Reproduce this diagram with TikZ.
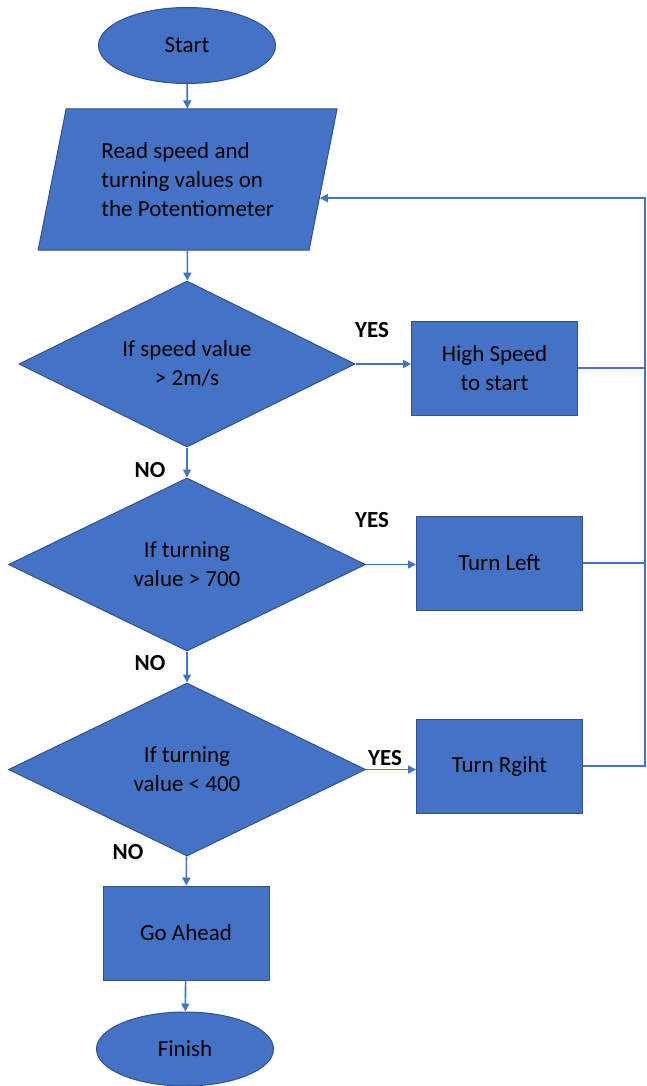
\documentclass[tikz,border=0pt]{standalone}
\usepackage{fontspec}
\setmainfont{Carlito}
\usetikzlibrary{shapes.geometric,arrows.meta}

\begin{document}
\begin{tikzpicture}[x=1pt,y=-1pt,
        font=\fontsize{23}{29}\selectfont,
        terminal/.style={ellipse, fill=flowblue, draw=flowedge, line width=1pt, minimum width=177pt, minimum height=76pt, inner sep=0pt},
        iobox/.style={trapezium, trapezium left angle=75, trapezium right angle=105, trapezium stretches=true,
            fill=flowblue, draw=flowedge, line width=1pt, minimum width=299pt, minimum height=141pt, align=left, inner sep=0pt},
        decision/.style={diamond, aspect=2, fill=flowblue, draw=flowedge, line width=1pt, inner sep=0pt, align=center},
        process/.style={rectangle, fill=flowblue, draw=flowedge, line width=1pt, minimum width=166pt, minimum height=94pt, align=center},
        flow/.style={draw=flowline, line width=1.6pt},
        arr/.style={flow, -{Triangle[length=8pt,width=8pt]}},
        answer/.style={font=\fontsize{23}{29}\selectfont\bfseries}]
        % Define colors
        \definecolor{flowblue}{RGB}{68, 114, 196}
        \definecolor{flowedge}{RGB}{47, 82, 143}
        \definecolor{flowline}{RGB}{68, 114, 196}

        \useasboundingbox (0,0) rectangle (647,1086);

        % --- MAIN COLUMN ---
        \node[terminal] (start) at (187, 45.5) {Start};
        \node[iobox] (read) at (187.6, 179.5) {Read speed and\\turning values on\\the Potentiometer};
        \node[decision, minimum width=336pt, minimum height=166pt] (d1) at (187, 364) {If speed value\\> 2m/s};
        \node[decision, minimum width=357pt, minimum height=173pt] (d2) at (187, 564.5) {If turning\\value > 700};
        \node[decision, minimum width=357pt, minimum height=173pt] (d3) at (187, 769.5) {If turning\\value < 400};
        \node[process] (go) at (186, 933) {Go Ahead};
        \node[terminal, minimum height=74pt] (finish) at (185, 1049) {Finish};

        % --- ACTIONS ---
        \node[process] (hs) at (494.5, 368) {High Speed\\to start};
        \node[process] (tl) at (499.5, 563) {Turn Left};
        \node[process] (tr) at (499.5, 766) {Turn Rgiht};

        % --- YES / NO ---
        \node[answer] (yes1) at (372, 330) {YES};
        \node[answer] (yes2) at (372, 520) {YES};
        \node[answer] (yes3) at (385, 758) {YES};
        \node[answer] (no1) at (150, 470) {NO};
        \node[answer] (no2) at (150, 663) {NO};
        \node[answer] (no3) at (128, 852) {NO};

        % --- CONNECTORS ---
        \draw[arr] (start) -- (read);
        \draw[arr] (read) -- (d1);
        \draw[arr] (d1) -- (d2);
        \draw[arr] (d2) -- (d3);
        \draw[arr] (d3) -- (go);
        \draw[arr] (go) -- (finish);
        \draw[arr] (d1.east) -- (d1.east -| hs.west);
        \draw[arr] (d2.east) -- (d2.east -| tl.west);
        \draw[arr] (d3.east) -- (d3.east -| tr.west);

        % --- RETURN LOOP ---
        \coordinate (loop) at (645, 365);
        \draw[flow] (hs.east) -- (hs.east -| loop);
        \draw[flow] (tl.east) -- (tl.east -| loop);
        \draw[arr] (tr.east) -| (loop) |- (read.-8);

    \end{tikzpicture}
\end{document}
